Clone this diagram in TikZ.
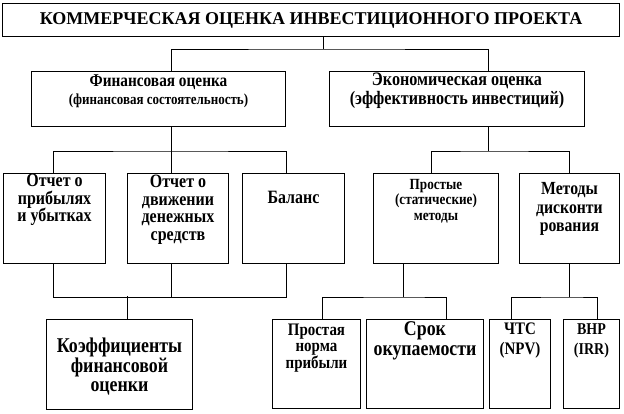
\documentclass[tikz,border=0pt]{standalone}
\usepackage{fontspec}
\setmainfont{Liberation Serif}
\newfontfamily\cnd{Liberation Serif}[FakeStretch=0.85]
\begin{document}
\begin{tikzpicture}[x=1pt, y=-1pt,
  box/.style={draw, line width=1pt, anchor=north west, inner sep=0pt},
  lbl/.style={align=center, inner sep=0pt},
  sz/.style 2 args={font=\cnd\bfseries\fontsize{#1}{#2}\selectfont},
  link/.style={line width=1pt}]
\useasboundingbox (0,0) rectangle (624,413);
% boxes
\node[box, minimum width=617, minimum height=33] (kom) at (2,3) {};
\node[box, minimum width=254, minimum height=55] (fin) at (31,71) {};
\node[box, minimum width=255, minimum height=55] (eco) at (329,71) {};
\node[box, minimum width=102, minimum height=90] (prib) at (3,173) {};
\node[box, minimum width=101, minimum height=90] (dv) at (127,173) {};
\node[box, minimum width=102, minimum height=90] (bal) at (242,173) {};
\node[box, minimum width=125, minimum height=90] (prost) at (373,173) {};
\node[box, minimum width=100, minimum height=90] (met) at (519,173) {};
\node[box, minimum width=146, minimum height=90] (koef) at (46,319) {};
\node[box, minimum width=88, minimum height=89] (pnp) at (272,319) {};
\node[box, minimum width=117, minimum height=89] (srok) at (366,319) {};
\node[box, minimum width=61, minimum height=89] (chts) at (489,319) {};
\node[box, minimum width=56, minimum height=89] (vnr) at (563,319) {};
% texts
\node[lbl, font=\bfseries\fontsize{18}{20}\selectfont] (kom-t) at (kom.center) {КОММЕРЧЕСКАЯ ОЦЕНКА ИНВЕСТИЦИОННОГО ПРОЕКТА};
\node[lbl, sz={15.3}{18}] (fin-t) at ([yshift=-20]fin.north) {{\fontsize{18}{18}\selectfont Финансовая оценка}\\(финансовая состоятельность)};
\node[lbl, sz={19}{19}] (eco-t) at ([yshift=-20]eco.north) {Экономическая оценка\\(эффективность инвестиций)};
\node[lbl, sz={18.8}{17.5}] (prib-t) at ([yshift=-27]prib.north) {Отчет о\\прибылях\\и убытках};
\node[lbl, sz={18.8}{17.5}] (dv-t) at ([yshift=-37]dv.north) {Отчет о\\движении\\денежных\\средств};
\node[lbl, sz={18.8}{17.5}] (bal-t) at ([yshift=-24]bal.north) {Баланс};
\node[lbl, sz={15.5}{15.5}] (prost-t) at ([yshift=-28]prost.north) {Простые\\(статические)\\методы};
\node[lbl, sz={18.5}{18.5}] (met-t) at ([yshift=-36]met.north) {Методы\\дисконти\\рования};
\node[lbl, sz={21}{19}] (koef-t) at ([yshift=-48]koef.north) {Коэффициенты\\финансовой\\оценки};
\node[lbl, sz={17.6}{16}] (pnp-t) at ([yshift=-29]pnp.north) {Простая\\норма\\прибыли};
\node[lbl, sz={21}{20}] (srok-t) at ([yshift=-22]srok.north) {Срок\\окупаемости};
\node[lbl, sz={17.6}{20}] (chts-t) at ([yshift=-22]chts.north) {ЧТС\\(NPV)};
\node[lbl, sz={16.5}{20}] (vnr-t) at ([yshift=-22]vnr.north) {ВНР\\(IRR)};
% connectors
\draw[link] ([xshift=12.5]kom.south) -- ++(0,12) coordinate (j0);
\draw[link] ([xshift=13]fin.north) |- (j0) -| ([xshift=31.5]eco.north);
\draw[link] ([xshift=13]fin.south) -- ++(0,24) coordinate (j1);
\draw[link] ([xshift=-1]prib.north) |- (j1) -| ([xshift=-7]bal.north);
\draw[link] (j1) -- ([xshift=-6.5]dv.north);
\draw[link] ([xshift=31.5]eco.south) -- ++(0,24) coordinate (j2);
\draw[link] ([xshift=-4.5]prost.north) |- (j2) -| (met.north);
\draw[link] ([xshift=-1]prib.south) -- ++(0,33) coordinate (j3) -| ([xshift=-7]bal.south);
\draw[link] ([xshift=-6.5]dv.south) -- ++(0,33);
\draw[link] ([xshift=8]koef.north) -- ++(0,-23);
\draw[link] ([xshift=-32.5]prost.south) -- ++(0,33) coordinate (j4);
\draw[link] ([xshift=6]pnp.north) |- (j4) -| ([xshift=21.5]srok.north);
\draw[link] (met.south) -- ++(0,33) coordinate (j5);
\draw[link] ([xshift=-8.5]chts.north) |- (j5) -| ([xshift=6]vnr.north);
\end{tikzpicture}
\end{document}
